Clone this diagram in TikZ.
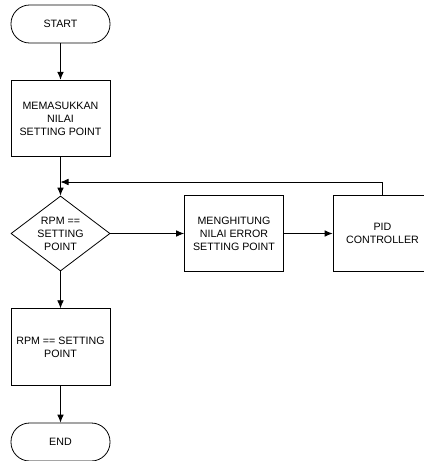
\documentclass[tikz,border=0pt]{standalone}
\usepackage{fontspec}
\setmainfont{Liberation Sans}
\usetikzlibrary{shapes.geometric,arrows.meta}
\begin{document}
\begin{tikzpicture}[x=0.75pt,y=-0.75pt,
  every node/.style={font=\fontsize{8}{9.75}\selectfont, align=center, line width=0.6pt},
  term/.style={draw, rounded corners=14pt, minimum width=74.25pt, minimum height=28.5pt, inner sep=0pt},
  proc/.style={draw, minimum width=74.25pt, minimum height=57.5pt, inner sep=0pt},
  dec/.style={draw, diamond, aspect=1.32, minimum width=74.25pt, minimum height=56.25pt, inner sep=0pt},
  flow/.style={line width=0.6pt, -{Latex[length=6pt,width=5pt]}}]
\clip (0,0) rectangle (424,461);
\node[term] (start) at (60.5,24) {START};
\node[proc] (in) at (60.5,118.5) {MEMASUKKAN\\NILAI\\SETTING POINT};
\node[dec] (cek) at (60.5,233.5) {RPM ==\\SETTING\\POINT};
\node[proc] (err) at (234,233.5) {MENGHITUNG\\NILAI ERROR\\SETTING POINT};
\node[proc] (pid) at (382.5,233.5) {PID\\CONTROLLER};
\node[proc] (out) at (60.5,347) {RPM == SETTING\\POINT};
\node[term] (end) at (60.5,442) {END};
\coordinate (j) at (60.5,182);
\draw[flow] (start) -- (in);
\draw[flow] (in) -- (cek);
\draw[flow] (cek) -- (err);
\draw[flow] (err) -- (pid);
\draw[flow] (pid.north) |- (j);
\draw[flow] (cek) -- (out);
\draw[flow] (out) -- (end);
\end{tikzpicture}
\end{document}
